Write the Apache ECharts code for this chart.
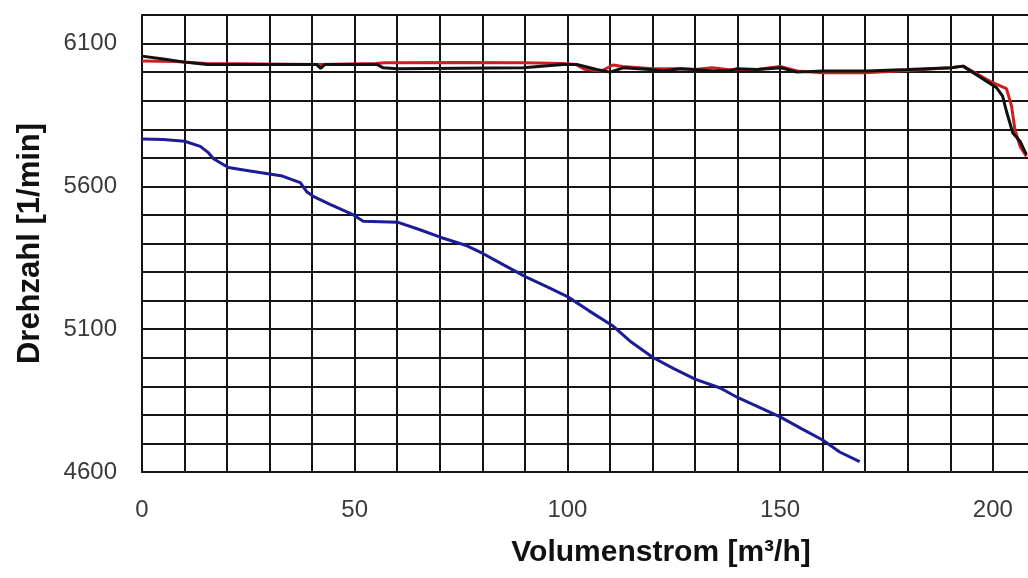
<!DOCTYPE html>
<html>
<head>
<meta charset="utf-8">
<script src="https://cdn.jsdelivr.net/npm/echarts@6/dist/echarts.min.js"></script>
<style>
html, body { margin: 0; padding: 0; background: #fff; }
#chart { width: 1028px; height: 578px; }
</style>
</head>
<body>
<div id="chart"></div>
<script>
// Volumenstrom [m3/h] / Drehzahl [1/min] pairs
var redLine = [
    [0, 6039], [8, 6037], [15, 6030], [42, 6027], [55, 6030], [57, 6033], [75, 6034],
    [90, 6033], [99, 6030], [102, 6027], [104, 6010], [108, 6004], [110.7, 6025],
    [113, 6020], [120, 6012], [126, 6012], [130, 6009], [134, 6015], [138, 6008],
    [145, 6010], [150, 6020], [154, 6004], [160, 5998], [170, 5998], [180, 6006],
    [190, 6015], [193, 6021], [200, 5963], [203.2, 5942], [204.4, 5881],
    [205.2, 5799], [206.4, 5740], [207.9, 5705]
];
var blackLine = [
    [0, 6056], [5, 6046], [10, 6035], [15.3, 6027], [41, 6027], [42, 6013], [43, 6027],
    [55.2, 6027], [56.7, 6015], [59.9, 6012], [89.6, 6015], [99, 6027], [102.2, 6027],
    [106.9, 6009], [110, 6000], [113.1, 6015], [119.4, 6009], [122.5, 6004],
    [126.5, 6012], [130, 6009], [134.2, 6004], [138.2, 6006], [139.9, 6012],
    [144.6, 6009], [150.3, 6015], [153.9, 6000], [160, 6004], [170.4, 6004],
    [180, 6009], [190.3, 6015], [193, 6021], [200.9, 5945], [202.3, 5916],
    [203.2, 5863], [204.7, 5787], [206.4, 5758], [207.9, 5711]
];
var blueLine = [
    [0, 5766], [5, 5764], [10, 5758], [13.7, 5740], [15.6, 5718], [16.8, 5697],
    [20.3, 5666], [25, 5655], [33, 5636], [37.2, 5613], [38.8, 5580], [40.5, 5563],
    [44.2, 5537], [49.6, 5501], [52, 5478], [60.2, 5474], [65, 5450], [70.1, 5422],
    [76.4, 5392], [80, 5366], [85, 5325], [90.1, 5284], [95, 5250], [100, 5214],
    [105, 5165], [110.8, 5110], [115, 5055], [120.2, 5000], [125, 4962], [130, 4925],
    [135.9, 4894], [140.1, 4860], [145, 4827], [150, 4793], [155, 4752],
    [160.1, 4711], [164, 4670], [168.7, 4636]
];
var xLabelStep = 50;
var yLabels = [4600, 5100, 5600, 6100];

var font = "'Liberation Sans', Arial, sans-serif";
var gridLine = {show: true, lineStyle: {color: '#151515', width: 2}};

var option = {
    animation: false,
    backgroundColor: '#fff',
    // plot runs past the right edge, like the cropped original
    grid: {left: 142, top: 15, width: 1038, height: 457, outerBoundsMode: 'none'},
    xAxis: {
        type: 'value', min: 0, max: 244, interval: 10,
        name: 'Volumenstrom [m³/h]', nameLocation: 'middle', nameGap: 66,
        nameTextStyle: {fontFamily: font, fontSize: 30, fontWeight: 'bold', color: '#111'},
        axisLine: {show: true, lineStyle: {color: '#151515', width: 2}},
        axisTick: {show: false},
        splitLine: gridLine,
        axisLabel: {
            margin: 26, fontFamily: font, fontSize: 24, color: '#3a3a3a',
            formatter: function (v) { return v % xLabelStep === 0 ? v : ''; }
        }
    },
    yAxis: {
        type: 'value', min: 4600, max: 6200, interval: 100,
        name: 'Drehzahl [1/min]', nameLocation: 'middle', nameGap: 96, nameRotate: 90,
        nameTextStyle: {fontFamily: font, fontSize: 31, fontWeight: 'bold', color: '#111'},
        axisLine: {show: true, lineStyle: {color: '#151515', width: 2}},
        axisTick: {show: false},
        splitLine: gridLine,
        axisLabel: {
            margin: 25, fontFamily: font, fontSize: 24, color: '#3a3a3a',
            formatter: function (v) { return yLabels.indexOf(v) >= 0 ? v : ''; }
        }
    },
    series: [
        {type: 'line', data: redLine, symbol: 'none', lineStyle: {color: '#cc2020', width: 3}},
        {type: 'line', data: blackLine, symbol: 'none', lineStyle: {color: '#111111', width: 3}},
        {type: 'line', data: blueLine, symbol: 'none', lineStyle: {color: '#1c1c96', width: 3}}
    ]
};

var myChart = echarts.init(document.getElementById('chart'));
myChart.setOption(option);
</script>
</body>
</html>
